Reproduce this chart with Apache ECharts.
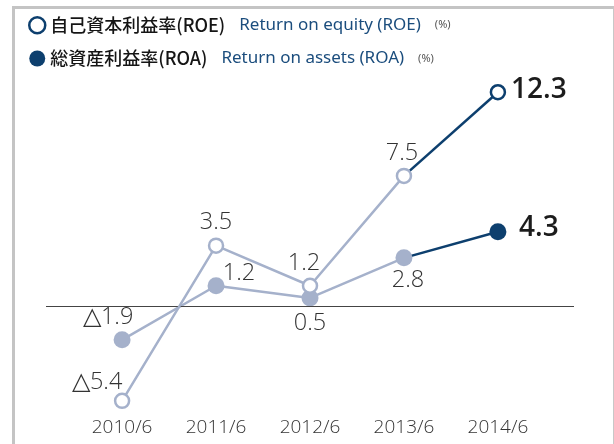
<!DOCTYPE html>
<html>
<head>
<meta charset="utf-8">
<script src="https://cdn.jsdelivr.net/npm/echarts@6/dist/echarts.min.js"></script>
<style>
  body { margin: 0; background: #fff; }
  .frame {
    position: absolute; left: 12px; top: 6px; width: 598px; height: 460px;
    border-left: 3px solid #c4c4c4; border-top: 3px solid #c4c4c4; border-right: 1px solid #c8c8c8;
  }
  #chart { position: absolute; left: 0; top: 0; width: 614px; height: 444px; }
</style>
</head>
<body>
<div class="frame"></div>
<div id="chart"></div>
<script>
  // data
  const periods = ['2010/6', '2011/6', '2012/6', '2013/6', '2014/6'];
  const roe = [-5.4, 3.5, 1.2, 7.5, 12.3];
  const roa = [-1.9, 1.2, 0.5, 2.8, 4.3];
  const namesJa = ['自己資本利益率(ROE)', '総資産利益率(ROA)'];
  const namesEn = ['Return on equity (ROE)', 'Return on assets (ROA)'];
  const unit = '(%)';

  const navy = '#0d3f6e';
  const light = '#a5b1cb';
  const valueFont = '"Open Sans", "Noto Sans", sans-serif';
  const latest = periods.length - 1; // last period drawn in navy

  // label offsets from each point (styling only)
  const roeOffsets = [[-25, -19], [0, -23], [-6, -22], [-2, -23], [41, -2]];
  const roaOffsets = [[-14, -22], [23, -12], [0, 25], [4, 22], [41, -4]];

  function fmt(v) {
    return v < 0 ? '△' + Math.abs(v).toFixed(1) : v.toFixed(1);
  }

  function labelFor(i, offsets) {
    const last = i === latest;
    return {
      show: true,
      position: 'inside',
      offset: offsets[i],
      formatter: p => fmt(p.value[1]),
      fontFamily: valueFont,
      fontSize: last ? 28 : 23.5,
      fontWeight: last ? 600 : 300,
      color: last ? '#1c1c1c' : '#333'
    };
  }

  // history part (light) : all points except the latest
  function historyData(values, offsets) {
    return values.slice(0, latest).map((v, i) => ({ value: [i, v], label: labelFor(i, offsets) }));
  }
  // latest segment (navy) : previous point + latest point
  function latestData(values, offsets) {
    return [
      { value: [latest - 1, values[latest - 1]], symbol: 'none' },
      { value: [latest, values[latest]], label: labelFor(latest, offsets) }
    ];
  }

  function pair(name, values, offsets, hollow, size, z) {
    const base = {
      type: 'line',
      symbol: 'circle',
      symbolSize: size,
      showAllSymbol: true
    };
    return [
      Object.assign({}, base, {
        name: name + ' latest',
        z: z,
        lineStyle: { width: 2.5, color: navy },
        itemStyle: { color: hollow ? '#fff' : navy, borderColor: navy, borderWidth: hollow ? 2.5 : 0 },
        data: latestData(values, offsets)
      }),
      Object.assign({}, base, {
        name: name,
        z: z + 1,
        lineStyle: { width: 2.5, color: light },
        itemStyle: { color: hollow ? '#fff' : light, borderColor: light, borderWidth: hollow ? 2.5 : 0 },
        data: historyData(values, offsets)
      })
    ];
  }

  const series = [].concat(
    pair(namesJa[0], roe, roeOffsets, true, 14, 5),
    pair(namesJa[1], roa, roaOffsets, false, 17, 3)
  );

  series[0].markLine = {
    silent: true,
    symbol: 'none',
    label: { show: false },
    lineStyle: { color: '#444', width: 1, type: 'solid' },
    data: [{ yAxis: 0 }]
  };

  const chart = echarts.init(document.getElementById('chart'));
  chart.setOption({
    animation: false,
    grid: { left: 46, right: 40, top: 80, bottom: 24 },
    legend: {
      orient: 'vertical',
      left: 23,
      top: 11,
      itemWidth: 16,
      itemHeight: 16,
      itemGap: 15,
      selectedMode: false,
      data: [
        { name: namesJa[0], icon: 'circle', itemStyle: { color: '#fff', borderColor: navy, borderWidth: 2.5 } },
        { name: namesJa[1], icon: 'circle', itemStyle: { color: navy, borderWidth: 0 } }
      ],
      formatter: name => {
        const i = namesJa.indexOf(name);
        return '{jp|' + name + '}{en|' + namesEn[i] + '}{pct|' + unit + '}';
      },
      textStyle: {
        rich: {
          jp: { fontFamily: '"Noto Sans CJK JP"', fontSize: 18, fontWeight: 500, color: '#151515', lineHeight: 22 },
          en: { fontFamily: '"Noto Sans"', fontSize: 17, color: '#1b4d7d', padding: [0, 0, 0, 14], lineHeight: 22 },
          pct: { fontFamily: '"Noto Sans"', fontSize: 11, color: '#555', padding: [0, 0, 0, 14], lineHeight: 22 }
        }
      }
    },
    xAxis: {
      type: 'value',
      min: -0.81,
      max: 4.81,
      axisLine: { show: false },
      axisTick: { show: false },
      splitLine: { show: false },
      axisLabel: {
        customValues: [0, 1, 2, 3, 4],
        formatter: v => periods[v],
        fontFamily: valueFont,
        fontSize: 19,
        fontWeight: 300,
        color: '#333',
        margin: -2
      }
    },
    yAxis: {
      type: 'value',
      min: -6.5,
      max: 13,
      axisLine: { show: false },
      axisTick: { show: false },
      axisLabel: { show: false },
      splitLine: { show: false }
    },
    series: series
  });
</script>
</body>
</html>
